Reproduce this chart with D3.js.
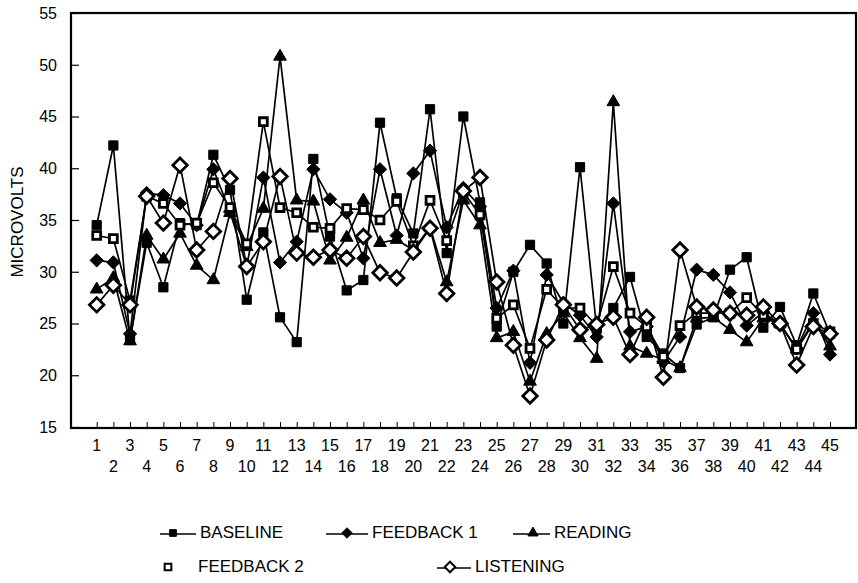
<!DOCTYPE html>
<html>
<head>
<meta charset="utf-8">
<script src="https://cdn.jsdelivr.net/npm/d3@7"></script>
<style>
  body { margin: 0; background: #fff; }
  svg { display: block; }
  text { font-family: "Liberation Sans", Arial, sans-serif; fill: #000; }
</style>
</head>
<body>
<svg id="chart" width="858" height="583"></svg>
<script>
// subjects 1..45
const subjects = [1,2,3,4,5,6,7,8,9,10,11,12,13,14,15,16,17,18,19,20,21,22,23,24,25,
  26,27,28,29,30,31,32,33,34,35,36,37,38,39,40,41,42,43,44,45];

const baseline = [34.5,42.2,23.4,32.8,28.5,34.7,34.5,41.3,37.9,27.3,33.8,25.6,23.2,40.9,33.4,
  28.2,29.2,44.4,37.1,33.7,45.7,31.8,45.0,36.7,24.7,30.0,32.6,30.8,25.0,40.1,
  24.5,26.5,29.5,23.7,22.1,20.7,24.9,25.6,30.2,31.4,24.6,26.6,22.9,27.9,24.0];

const feedback1 = [31.1,30.9,24.0,37.6,37.4,36.6,34.5,39.9,35.8,30.5,39.1,30.9,32.9,39.9,37.0,
  35.7,31.3,39.9,33.5,39.5,41.7,34.3,38.1,36.3,26.5,30.1,21.2,29.7,27.0,25.8,
  23.7,36.6,24.2,24.7,21.3,23.7,30.2,29.7,28.0,24.8,26.1,24.9,22.6,26.0,22.0];

const reading = [28.3,29.4,23.3,33.5,31.2,33.7,30.6,29.2,35.7,32.4,36.1,50.8,36.9,36.8,31.1,
  33.3,36.9,32.8,33.1,32.1,34.3,29.0,36.9,34.5,23.6,24.2,19.4,24.0,26.0,23.6,
  21.6,46.4,22.8,22.1,21.5,20.7,25.5,25.6,24.4,23.2,25.5,25.0,22.5,25.2,22.8];

const feedback2 = [33.5,33.2,27.2,37.3,36.6,34.5,34.7,38.6,36.2,32.7,44.5,36.2,35.7,34.3,34.2,
  36.1,36.0,35.0,36.8,32.5,36.9,33.0,37.7,35.5,25.5,26.8,22.6,28.3,26.5,26.5,
  24.8,30.5,26.0,24.7,21.8,24.8,26.0,26.0,26.0,27.5,25.8,25.0,22.5,25.0,24.2];

const listening = [26.8,28.7,26.8,37.3,34.7,40.3,32.1,33.9,39.0,30.5,32.9,39.2,31.8,31.4,32.1,
  31.3,33.4,29.9,29.4,31.9,34.2,27.9,37.8,39.1,29.0,22.9,18.0,23.4,26.8,24.4,
  24.9,25.6,22.0,25.6,19.8,32.1,26.6,26.3,26.0,25.8,26.6,25.0,21.0,24.7,24.0];

const yTicks = [15,20,25,30,35,40,45,50,55];

const series = [
  {name: "BASELINE", values: baseline, shape: "square", fill: "#000", size: 85},
  {name: "FEEDBACK 1", values: feedback1, shape: "diamond", fill: "#000", size: 88},
  {name: "READING", values: reading, shape: "triangle", fill: "#000", size: 70},
  {name: "FEEDBACK 2", values: feedback2, shape: "square", fill: "#fff", size: 62},
  {name: "LISTENING", values: listening, shape: "diamond", fill: "#fff", size: 105}
];

const svg = d3.select("#chart");

const frame = {left: 71, right: 856, top: 13, bottom: 428};

const x = d3.scaleLinear().domain([1, 45]).range([96.7, 830]);
const y = d3.scaleLinear().domain([15, 55]).range([427, 13]);

// plot frame
svg.append("rect")
  .attr("x", frame.left).attr("y", frame.top)
  .attr("width", frame.right - frame.left)
  .attr("height", frame.bottom - frame.top)
  .attr("fill", "none").attr("stroke", "#000").attr("stroke-width", 2.2);

// y axis ticks pointing inward
const yAxis = svg.append("g")
  .attr("transform", "translate(" + frame.left + ",0)")
  .call(d3.axisRight(y).tickValues(yTicks).tickSize(8).tickFormat(""));
yAxis.select(".domain").remove();
yAxis.selectAll("line").attr("stroke-width", 1.2);

svg.selectAll(".ylab")
  .data(yTicks)
  .enter().append("text")
  .attr("class", "ylab")
  .attr("x", 57)
  .attr("y", d => y(d))
  .attr("dy", "0.36em")
  .attr("text-anchor", "end")
  .style("font-size", "16px")
  .text(d => d);

// x axis ticks pointing up
const xAxis = svg.append("g")
  .attr("transform", "translate(0," + frame.bottom + ")")
  .call(d3.axisTop(x).tickValues(subjects).tickSize(6).tickFormat(""));
xAxis.select(".domain").remove();
xAxis.selectAll("line").attr("stroke-width", 1);

svg.selectAll(".xlab")
  .data(subjects)
  .enter().append("text")
  .attr("class", "xlab")
  .attr("x", d => x(d))
  .attr("y", d => d % 2 === 1 ? 451 : 472)
  .attr("text-anchor", "middle")
  .style("font-size", "16px")
  .text(d => d);

// axis title
svg.append("text")
  .attr("transform", "translate(23,222) rotate(-90)")
  .attr("text-anchor", "middle")
  .style("font-size", "17px")
  .text("MICROVOLTS");

function markerPath(shape, size) {
  if (shape === "square") return d3.symbol(d3.symbolSquare, size)();
  if (shape === "triangle") return d3.symbol(d3.symbolTriangle, size)();
  // diamond: a square turned 45 degrees
  const r = Math.sqrt(size) / Math.SQRT2;
  return "M0," + (-r) + "L" + r + ",0L0," + r + "L" + (-r) + ",0Z";
}

const line = d3.line()
  .x((d, i) => x(subjects[i]))
  .y(d => y(d));

// lines
svg.selectAll(".series-line")
  .data(series)
  .enter().append("path")
  .attr("class", "series-line")
  .attr("d", d => line(d.values))
  .attr("fill", "none")
  .attr("stroke", "#000")
  .attr("stroke-width", 1.7);

// markers
series.forEach(function(s) {
  svg.append("g").selectAll("path")
    .data(s.values)
    .enter().append("path")
    .attr("transform", (d, i) => "translate(" + x(subjects[i]) + "," + y(d) + ")")
    .attr("d", markerPath(s.shape, s.size))
    .attr("fill", s.fill)
    .attr("stroke", "#000")
    .attr("stroke-width", s.fill === "#fff" ? 2.8 : 1);
});

// legend
const legendItems = [
  {s: series[0], x: 160, y: 532, lineW: 36, mk: 13},
  {s: series[1], x: 326, y: 532, lineW: 42, mk: 21},
  {s: series[2], x: 513, y: 532, lineW: 37, mk: 20},
  {s: series[3], x: 160, y: 566, lineW: 0, mk: 8},
  {s: series[4], x: 437, y: 566, lineW: 34, mk: 13}
];

const legend = svg.append("g");
legendItems.forEach(function(it) {
  const g = legend.append("g").attr("transform", "translate(" + it.x + "," + it.y + ")");
  if (it.lineW > 0) {
    g.append("line")
      .attr("x1", 0).attr("x2", it.lineW)
      .attr("y1", 2).attr("y2", 2)
      .attr("stroke", "#000").attr("stroke-width", 1.5);
  }
  const sz = it.s.shape === "diamond" ? 55 : 45;
  g.append("path")
    .attr("transform", "translate(" + it.mk + ",1)")
    .attr("d", markerPath(it.s.shape, sz))
    .attr("fill", it.s.fill)
    .attr("stroke", "#000")
    .attr("stroke-width", it.s.fill === "#fff" ? 2 : 1);
  g.append("text")
    .attr("x", it.s.name === "FEEDBACK 2" ? 38 : it.lineW + 4)
    .attr("y", 0)
    .attr("dy", "0.36em")
    .style("font-size", "17px")
    .text(it.s.name);
});
</script>
</body>
</html>
